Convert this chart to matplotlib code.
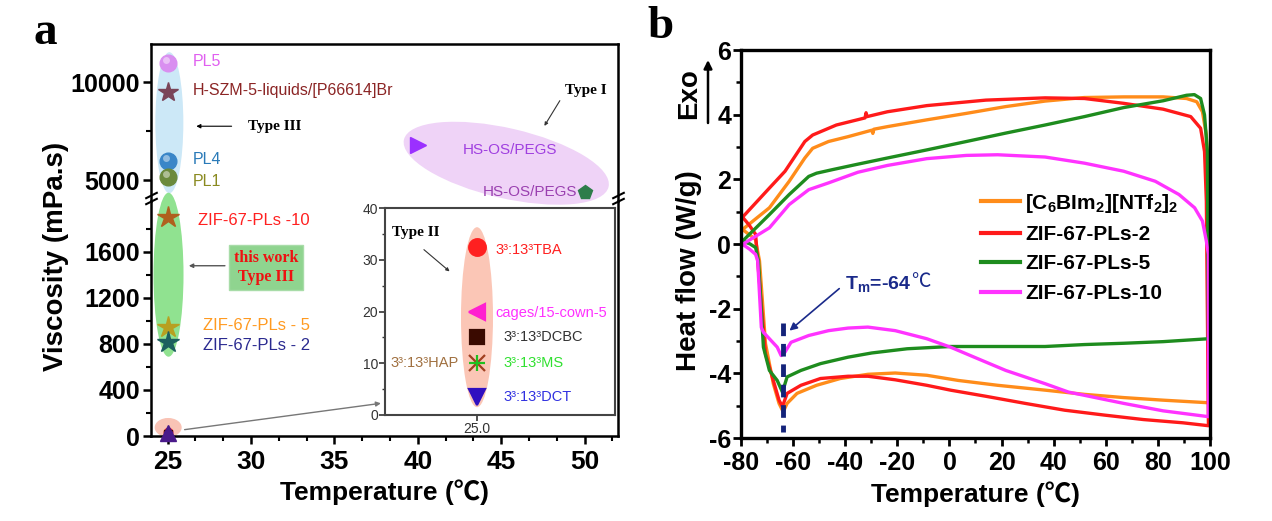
import numpy as np
import matplotlib
matplotlib.use('Agg')
import matplotlib.pyplot as plt
from matplotlib.patches import Ellipse
from matplotlib.transforms import Affine2D, ScaledTranslation
from matplotlib.ticker import MultipleLocator, FixedLocator

plt.rcParams['font.family'] = ['Liberation Sans', 'DejaVu Sans']
plt.rcParams['mathtext.fontset'] = 'custom'
plt.rcParams['mathtext.rm'] = 'Liberation Sans'
plt.rcParams['mathtext.bf'] = 'Liberation Sans:bold'
plt.rcParams['mathtext.it'] = 'Liberation Sans:italic'
plt.rcParams['mathtext.default'] = 'bf'
plt.rcParams['axes.unicode_minus'] = False

# ---------------- Panel a data ----------------
type3_labels = ['PL5', 'H-SZM-5-liquids/[P66614]Br', 'PL4', 'PL1']
type3_temp = [25, 25, 25, 25]
type3_visc = [11000, 9500, 6000, 5150]
type3_markers = ['o', '*', 'o', 'o']
type3_colors = ['#d98ff0', '#7a4458', '#3a86c8', '#6b8a3c']
type3_label_colors = ['#e060f0', '#8b2525', '#2a7ab8', '#8a8a20']

work_labels = ['ZIF-67-PLs -10', 'ZIF-67-PLs - 5', 'ZIF-67-PLs - 2']
work_temp = [25, 25, 25]
work_visc = [1900, 950, 820]
work_colors = ['#b0601e', '#b8a020', '#1d5f5f']
work_label_colors = ['#ff2020', '#ff9a20', '#2a2a90']

type1_temp = [40, 50]
type1_visc = [6800, 4380]
type1_markers = ['>', 'p']
type1_colors = ['#9b30ff', '#2e7d4a']
type1_labels = ['HS-OS/PEGS', 'HS-OS/PEGS']
type1_label_colors = ['#a040e0', '#9a40b0']

type2_labels = ['3³:13³TBA', 'cages/15-cown-5', '3³:13³DCBC', '3³:13³HAP', '3³:13³MS', '3³:13³DCT']
type2_temp = [25.0, 25.0, 25.0, 25.0, 25.0, 25.0]
type2_visc = [32.5, 20, 15, 10, 10, 3.5]
type2_markers = ['o', '<', 's', 'x', '+', 'v']
type2_colors = ['#ff2020', '#ff20d0', '#3a0a00', '#a04020', '#20c020', '#3010c0']
type2_label_colors = ['#ff2020', '#ff30ff', '#333333', '#a07040', '#30e030', '#3030e0']

# ---------------- Panel b data ----------------
c6_T = [-79.4, -77, -74.5, -72.9, -70.6, -67.6, -65.4, -63.8, -62.3, -58.5, -51, -41.9, -31.3, -20.8, -8.7,
        3.4, 18.5, 36.7, 51.8, 66.9, 82, 99.4,
        99.4, 98.6, 97.1, 94.9, 91, 82, 66.9, 51.8, 36.7, 21.6, 6.5, -8.7, -23.8, -29.0, -29.4, -29.8,
        -38.9, -46.4, -52.5, -55.5, -61.5, -69.1, -79.4]
c6_HF = [0.45, 0.3, 0.15, -0.52, -3.08, -4.32, -4.93, -5.19, -4.93, -4.62, -4.37, -4.16, -4.03, -3.99, -4.06,
         -4.22, -4.37, -4.52, -4.65, -4.75, -4.83, -4.91,
         1.3, 3.37, 4.09, 4.4, 4.5, 4.55, 4.55, 4.53, 4.42, 4.25, 4.04, 3.84, 3.63, 3.55, 3.42, 3.52,
         3.32, 3.17, 2.96, 2.66, 1.94, 1.12, 0.45]

pl2_T = [-79.4, -77, -74.4, -73.6, -70.6, -67.6, -65.4, -64.1, -62.3, -57, -49.5, -38.9, -31.3, -20.8, -8.7,
         0.4, 14, 29.1, 44.2, 59.3, 74.5, 89.6, 99.4,
         98.6, 97.9, 96.4, 92.6, 82, 66.9, 51.8, 36.7, 14, -8.7, -23.8, -31.6, -32.0, -32.4,
         -43.4, -52.5, -55.5, -63.1, -69.1, -79.4]
pl2_HF = [0.83, 0.6, 0.3, -0.52, -3.39, -4.22, -4.83, -5.03, -4.62, -4.37, -4.16, -4.09, -4.09, -4.2, -4.37,
          -4.52, -4.71, -4.93, -5.14, -5.29, -5.43, -5.53, -5.62,
          1.32, 2.86, 3.58, 3.94, 4.17, 4.35, 4.5, 4.52, 4.45, 4.28, 4.09, 3.94, 4.06, 3.9,
          3.68, 3.37, 3.17, 2.25, 1.73, 0.83]

pl5_T = [-79.4, -76.5, -74.4, -73.3, -71.4, -69.1, -66.1, -64.1, -62.3, -57, -49.5, -38.9, -29.8, -16.2, 0.4,
         21.6, 36.7, 51.8, 66.9, 82, 99.4,
         99.0, 97.9, 96.4, 94.0, 91, 82, 66.9, 51.8, 36.7, 21.6, 6.5, -8.7, -23.8, -35.1, -44.9, -51, -54,
         -61.5, -69.1, -79.4]
pl5_HF = [0.09, 0.0, -0.11, -0.52, -3.19, -3.91, -4.22, -4.58, -4.11, -3.91, -3.7, -3.5, -3.37, -3.24, -3.17,
          -3.17, -3.17, -3.11, -3.07, -3.02, -2.93,
          2.86, 3.99, 4.5, 4.62, 4.6, 4.43, 4.22, 3.94, 3.68, 3.43, 3.17, 2.91, 2.66, 2.47, 2.3, 2.19, 2.09,
          1.53, 0.91, 0.09]

pl10_T = [-79.4, -76.7, -74.4, -73.6, -72.2, -71.4, -69.1, -66.1, -64.6, -63.1, -60.8, -54, -46.4, -38.9, -31.3,
          -20.8, -8.7, 0.4, 9.5, 21.6, 36.7, 45.7, 51.8, 66.9, 82, 99.4,
          99.4, 98.6, 97.1, 94.1, 88.1, 79, 66.9, 51.8, 36.7, 18.5, 6.5, -8.7, -23.8, -35.1, -46.4, -54,
          -61.5, -69.1, -79.4]
pl10_HF = [-0.01, -0.16, -0.32, -0.52, -2.58, -2.73, -2.93, -3.19, -3.45, -3.34, -3.04, -2.83, -2.68, -2.6, -2.57,
           -2.68, -2.93, -3.19, -3.5, -3.91, -4.32, -4.58, -4.68, -4.93, -5.16, -5.34,
           -0.32, 0.09, 0.71, 1.12, 1.53, 1.94, 2.25, 2.5, 2.69, 2.76, 2.74, 2.64, 2.43, 2.22, 1.89, 1.68,
           1.22, 0.5, -0.01]

dsc_labels = ['[C$_6$BIm$_2$][NTf$_2$]$_2$', 'ZIF-67-PLs-2', 'ZIF-67-PLs-5', 'ZIF-67-PLs-10']
dsc_colors = ['#ff8c1a', '#ff1a1a', '#1e8c1e', '#ff33ff']
Tm_value = -64
Tm_span = [-2.43, -5.82]

# ---------------- Figure ----------------
W, H = 1272, 521
fig = plt.figure(figsize=(W / 100, H / 100), dpi=100)
CJK = ['Liberation Sans', 'Noto Sans CJK SC', 'DejaVu Sans']


def px_axes(left, top, right, bottom):
    return fig.add_axes([left / W, 1 - bottom / H, (right - left) / W, (bottom - top) / H])


ax_up = px_axes(151, 44, 618, 201)
ax_lo = px_axes(151, 201, 618, 436)
ax_in = px_axes(385, 208, 615, 415)
ax_b = px_axes(741, 50, 1210, 438)

for a in (ax_up, ax_lo):
    a.set_facecolor('none')
    a.set_xlim(24, 52)
ax_up.set_ylim(3940, 11950)
ax_lo.set_ylim(0, 2040)


def px_ellipse(ax, center, w, h, angle, color, z=0.5):
    tr = Affine2D() + ScaledTranslation(center[0], center[1], ax.transData)
    e = Ellipse((0, 0), w, h, angle=angle, transform=tr, facecolor=color, edgecolor='none',
                zorder=z, clip_on=False)
    ax.add_artist(e)


# ellipses (background highlights)
px_ellipse(ax_up, (25.1, 7934), 28, 141, 0, '#cce8f7')
px_ellipse(ax_lo, (25.05, 1400), 30, 164, 0, '#90e290')
px_ellipse(ax_lo, (25.03, 74), 27, 19, 0, '#f9c3b5')
px_ellipse(ax_up, (45.3, 5867), 210, 70, -13, '#efd3f7')

# spines / ticks panel a
for a in (ax_up, ax_lo):
    for s in a.spines.values():
        s.set_linewidth(1.8)
ax_up.spines['bottom'].set_visible(False)
ax_lo.spines['top'].set_visible(False)
ax_up.tick_params(axis='x', which='both', bottom=False, labelbottom=False)
ax_up.yaxis.set_major_locator(FixedLocator([5000, 10000]))
ax_up.yaxis.set_minor_locator(FixedLocator([7500]))
ax_lo.yaxis.set_major_locator(FixedLocator([0, 400, 800, 1200, 1600]))
ax_lo.yaxis.set_minor_locator(FixedLocator([200, 600, 1000, 1400, 1800]))
ax_lo.xaxis.set_major_locator(MultipleLocator(5))
ax_lo.xaxis.set_minor_locator(MultipleLocator(5 / 3))
for a in (ax_up, ax_lo):
    a.tick_params(which='major', direction='out', length=6, width=1.8, labelsize=18, pad=2)
    a.tick_params(which='minor', direction='out', length=3.5, width=1.5)
    a.tick_params(axis='y', which='both', right=False)
    for lab in a.get_yticklabels() + a.get_xticklabels():
        lab.set_fontweight('bold')
ax_lo.tick_params(axis='x', labelsize=19, pad=4)

# break marks
bk = dict(marker=[(-1, -0.5), (1, 0.5)], markersize=9, linestyle='none', color='k', mec='k', mew=1.5,
          clip_on=False)
for x0 in (0, 1):
    ax_lo.plot([x0, x0], [1.0, 1.025], transform=ax_lo.transAxes, **bk)

# markers panel a
for t, v, m, c in zip(type3_temp, type3_visc, type3_markers, type3_colors):
    ax_up.plot(t, v, marker=m, color=c, markersize=15 if m == '*' else 12, mec=c, linestyle='none', zorder=3)
    if m == 'o':
        ax_up.plot(t - 0.08, v + 150, marker='o', color='white', alpha=0.45, markersize=5, mec='none', zorder=4)
for t, v, c in zip(work_temp, work_visc, work_colors):
    ax_lo.plot(t, v, marker='*', color=c, markersize=16, mec=c, linestyle='none', zorder=3)
for t, v, m, c in zip(type1_temp, type1_visc, type1_markers, type1_colors):
    ax_up.plot(t, v, marker=m, color=c, markersize=12 if m == '>' else 10, mec=c, linestyle='none', zorder=3,
               clip_on=False)
# Type II cluster at bottom of main axes
for t, v, m, c in zip(type2_temp, type2_visc, type2_markers, type2_colors):
    ax_lo.plot(t, v, marker=m, color=c, markersize=6, mec=c, linestyle='none', zorder=3, clip_on=False)
ax_lo.plot(type2_temp[-1], 30, marker='^', color='#4a1a8a', markersize=11, linestyle='none', zorder=3.5,
           clip_on=False)

# labels panel a
ty_up = [11070, 9590, 6071, 4949]
for lab, c, yv in zip(type3_labels, type3_label_colors, ty_up):
    ax_up.text(26.5, yv, lab, color=c, fontsize=11.5, va='center', ha='left')
ax_up.text(29.8, 7755, 'Type III', fontfamily='Liberation Serif', fontweight='bold', fontsize=11,
           va='center', ha='left')
ax_up.annotate('', xy=(26.55, 7755), xytext=(29.0, 7755),
               arrowprops=dict(arrowstyle='-|>', lw=0.8, color='k', mutation_scale=6))
ax_up.text(42.7, 6530, type1_labels[0], color=type1_label_colors[0], fontsize=11, va='center', ha='left')
ax_up.text(43.9, 4400, type1_labels[1], color=type1_label_colors[1], fontsize=11, va='center', ha='left',
           clip_on=False)
ax_up.text(48.8, 9592, 'Type I', fontfamily='Liberation Serif', fontweight='bold', fontsize=11,
           va='center', ha='left')
ax_up.annotate('', xy=(47.5, 7650), xytext=(48.6, 9180),
               arrowprops=dict(arrowstyle='-|>', lw=0.8, color='#333', mutation_scale=5))

ty_lo = [1870, 957, 783]
tx_lo = [26.8, 27.1, 27.1]
for lab, c, xv, yv in zip(work_labels, work_label_colors, tx_lo, ty_lo):
    ax_lo.text(xv, yv, lab, color=c, fontsize=12, va='center', ha='left')
ax_lo.text(30.9, 1461, 'this work\nType III', ha='center', va='center', color='#ee1111',
           fontfamily='Liberation Serif', fontweight='bold', fontsize=11.5, linespacing=1.3,
           bbox=dict(boxstyle='square,pad=0.3', fc='#8fd48f', ec='#a8dca8', lw=1))
ax_lo.annotate('', xy=(26.1, 1478), xytext=(28.6, 1478),
               arrowprops=dict(arrowstyle='-|>', lw=1, color='#555', mutation_scale=6))
ax_lo.annotate('', xy=(37.95, 287), xytext=(25.85, 52),
               arrowprops=dict(arrowstyle='-|>', lw=1, color='#777', mutation_scale=7), annotation_clip=False)

ax_lo.set_xlabel('Temperature (℃)', fontsize=19, fontweight='bold', labelpad=4, fontfamily=CJK)
fig.text(56 / W, 1 - 256 / H, 'Viscosity (mPa.s)', rotation=90, fontsize=20, fontweight='bold',
         ha='center', va='center')

# ---------------- Inset ----------------
ax_in.set_xlim(24.6, 25.6)
ax_in.set_ylim(0, 40)
px_ellipse(ax_in, (25.0, 18.9), 32, 180, 0, '#fbc6b6')
for t, v, m, c in zip(type2_temp, type2_visc, type2_markers, type2_colors):
    ms = {'o': 12, '<': 12, 's': 10, 'x': 11, '+': 11, 'v': 12}[m]
    ax_in.plot(t, v, marker=m, color=c, markersize=ms, mec=c, mew=1.6, linestyle='none', zorder=3)
in_tx = [25.082, 25.082, 25.116, 24.922, 25.116, 25.116]
in_ha = ['left', 'left', 'left', 'right', 'left', 'left']
in_ty = [31.9, 19.7, 15.1, 10, 10, 3.5]
for lab, c, xv, yv, ha in zip(type2_labels, type2_label_colors, in_tx, in_ty, in_ha):
    ax_in.text(xv, yv, lab, color=c, fontsize=10.5, va='center', ha=ha)
ax_in.text(24.63, 35.2, 'Type II', fontfamily='Liberation Serif', fontweight='bold', fontsize=11,
           va='center', ha='left')
ax_in.annotate('', xy=(24.89, 27.4), xytext=(24.76, 32.3),
               arrowprops=dict(arrowstyle='-|>', lw=0.8, color='#333', mutation_scale=5))
ax_in.xaxis.set_major_locator(FixedLocator([25.0]))
ax_in.xaxis.set_major_formatter(plt.FixedFormatter(['25.0']))
ax_in.yaxis.set_major_locator(MultipleLocator(10))
ax_in.yaxis.set_minor_locator(MultipleLocator(5))
ax_in.tick_params(which='major', direction='out', length=4, width=1.2, labelsize=10, labelcolor='#333',
                  color='#333', pad=1)
ax_in.tick_params(which='minor', direction='out', length=2, width=1, color='#333')
for s in ax_in.spines.values():
    s.set_linewidth(1.5)
    s.set_color('#444')

# ---------------- Panel b ----------------
series_T = [c6_T, pl2_T, pl5_T, pl10_T]
series_HF = [c6_HF, pl2_HF, pl5_HF, pl10_HF]
for T, HF, c, lab in zip(series_T, series_HF, dsc_colors, dsc_labels):
    ax_b.plot(T, HF, color=c, lw=2.4, label=lab, solid_joinstyle='round')
ax_b.plot([Tm_value, Tm_value], Tm_span, color='#14237a', lw=3.5, dashes=(2.6, 1.6), zorder=5)
tm_txt = ax_b.text(-40.0, -1.23, 'T$_m$=-64', color='#1a2a8a', fontsize=14, fontweight='bold',
                   va='center', ha='left')
ax_b.annotate('℃', xy=(1.0, 0.62), xycoords=tm_txt, va='center', ha='left', color='#1a2a8a', fontsize=14,
              fontfamily=['Noto Sans CJK SC', 'DejaVu Sans'])
ax_b.annotate('', xy=(-61.4, -2.68), xytext=(-42.3, -1.38),
              arrowprops=dict(arrowstyle='-|>', color='#1a2a8a', lw=1.2, mutation_scale=11,
                              shrinkA=0, shrinkB=0))
ax_b.set_xlim(-80, 100)
ax_b.set_ylim(-6, 6)
ax_b.xaxis.set_major_locator(MultipleLocator(20))
ax_b.xaxis.set_minor_locator(MultipleLocator(10))
ax_b.yaxis.set_major_locator(MultipleLocator(2))
ax_b.yaxis.set_minor_locator(MultipleLocator(1))
ax_b.tick_params(which='major', direction='out', length=6, width=2, pad=2)
ax_b.tick_params(which='minor', direction='out', length=3.5, width=1.8)
ax_b.tick_params(axis='x', labelsize=18, pad=3)
ax_b.tick_params(axis='y', labelsize=18, pad=1)
for lab in ax_b.get_xticklabels() + ax_b.get_yticklabels():
    lab.set_fontweight('bold')
for s in ax_b.spines.values():
    s.set_linewidth(2.4)
ax_b.set_xlabel('Temperature (℃)', fontsize=19, fontweight='bold', labelpad=5, fontfamily=CJK)
fig.text(689 / W, 1 - 271 / H, 'Heat flow (W/g)', rotation=90, fontsize=20, fontweight='bold',
         ha='center', va='center')
fig.text(689 / W, 1 - 94 / H, 'Exo', rotation=90, fontsize=20, fontweight='bold', ha='center', va='center')
ax_b.annotate('', xy=(708, H - 60), xytext=(708, H - 123), xycoords='figure pixels',
              textcoords='figure pixels',
              arrowprops=dict(arrowstyle='-|>', lw=1.8, color='k', mutation_scale=12, shrinkA=0, shrinkB=0))
leg = ax_b.legend(loc='upper left', bbox_to_anchor=(0.512, 0.635), frameon=False,
                  prop=dict(weight='bold', size=15), handlelength=1.85, handletextpad=0.25, labelspacing=0.5,
                  borderaxespad=0, borderpad=0)
for ln in leg.get_lines():
    ln.set_linewidth(3)

# panel letters
fig.text(45 / W, 1 - 33 / H, 'a', fontfamily='Liberation Serif', fontweight='bold', fontsize=34,
         ha='center', va='center')
fig.text(661 / W, 1 - 27 / H, 'b', fontfamily='Liberation Serif', fontweight='bold', fontsize=34,
         ha='center', va='center')

fig.savefig('out.png', dpi=100)
